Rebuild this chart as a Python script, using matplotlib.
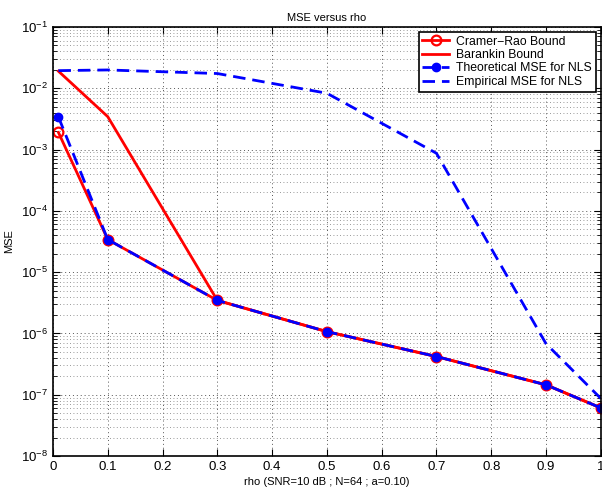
import numpy as np
import matplotlib
matplotlib.use('Agg')
import matplotlib.pyplot as plt
from matplotlib.ticker import LogLocator, NullFormatter

# valeurs
rho = [0.01, 0.1, 0.3, 0.5, 0.7, 0.9, 1.0]
crb = [1.9e-3, 3.4e-5, 3.46e-6, 1.07e-6, 4.2e-7, 1.45e-7, 6.1e-8]
barankin = [1.9e-2, 3.44e-3, 3.46e-6, 1.07e-6, 4.2e-7, 1.45e-7, 6.1e-8]
mse_theo = [3.4e-3, 3.4e-5, 3.46e-6, 1.07e-6, 4.2e-7, 1.45e-7, 6.1e-8]
mse_emp = [1.94e-2, 1.99e-2, 1.74e-2, 8.3e-3, 8.7e-4, 6.8e-7, 8.7e-8]

x_ticks = np.round(np.arange(0, 1.01, 0.1), 1)
x_labels = ['0'] + [f'{v:.1f}' for v in x_ticks[1:-1]] + ['1']

plt.rcParams['font.family'] = ['Liberation Sans', 'DejaVu Sans']
plt.rcParams['mathtext.default'] = 'regular'
plt.rcParams['font.size'] = 8


def main():
    fig = plt.figure(figsize=(6.02, 4.96), dpi=100)
    ax = fig.add_axes([0.088, 0.0806, 0.91, 0.865])

    ax.semilogy(rho, crb, '-o', color='red', lw=2, ms=7, mfc='none', mec='red',
                mew=1.6, label='Cramer\u2212Rao Bound')
    ax.semilogy(rho, barankin, '-', color='red', lw=2, label='Barankin Bound')
    ax.semilogy(rho, mse_theo, '--o', color='blue', lw=2, ms=6, mfc='blue', mec='blue',
                dashes=(4.5, 2.5), label='Theoretical MSE for NLS')
    ax.semilogy(rho, mse_emp, '--', color='blue', lw=2, dashes=(4.5, 2.5),
                label='Empirical MSE for NLS')

    ax.set_xlim(0, 1)
    ax.set_ylim(1e-8, 1e-1)
    ax.set_xticks(x_ticks)
    ax.set_xticklabels(x_labels)
    ax.yaxis.set_major_locator(LogLocator(base=10, numticks=10))
    ax.yaxis.set_minor_locator(LogLocator(base=10, subs=np.arange(2, 10), numticks=20))
    ax.yaxis.set_minor_formatter(NullFormatter())

    # grille pointillee facon matlab
    ax.grid(True, which='major', color='#555555', ls=(0, (1, 3)), lw=0.7)
    ax.grid(True, which='minor', axis='y', color='#777777', ls=(0, (1, 3)), lw=0.6)
    ax.tick_params(which='both', direction='in', top=True, right=True, labelsize=9.5)
    ax.tick_params(which='major', length=5)
    ax.tick_params(which='minor', length=3)
    for s in ax.spines.values():
        s.set_linewidth(1.2)

    ax.set_title('MSE versus rho', fontsize=8, pad=4)
    ax.set_xlabel('rho (SNR=10 dB ; N=64 ; a=0.10)', fontsize=8, labelpad=3)
    ax.set_ylabel('MSE', fontsize=8, labelpad=5)

    leg = ax.legend(loc='upper right', fontsize=8.8, fancybox=False, framealpha=1,
                    edgecolor='k', borderpad=0.3, labelspacing=0.12, handlelength=2.2,
                    handletextpad=0.6, borderaxespad=0.4)
    leg.get_frame().set_linewidth(1.2)

    fig.savefig('out.png', dpi=100)


if __name__ == '__main__':
    main()
